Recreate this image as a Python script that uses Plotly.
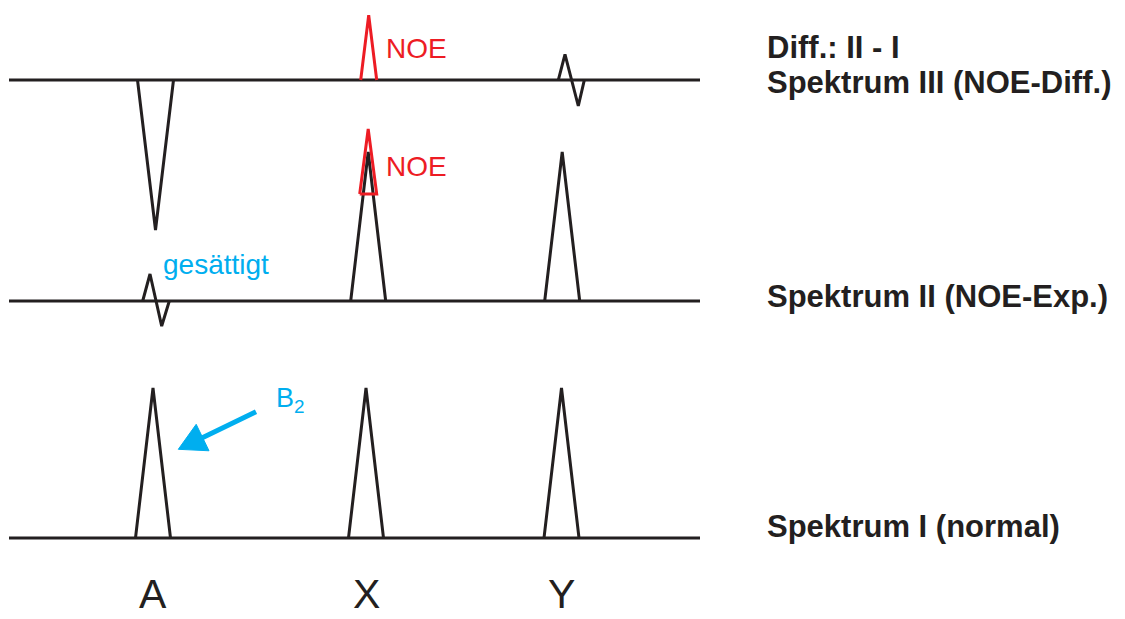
import math
import plotly.graph_objects as go

# ---------------- data ----------------
categories = ["A", "X", "Y"]

# baselines of the three spectra (intensity offset units)
spectrum_names = ["Spektrum I (normal)", "Spektrum II (NOE-Exp.)", "Spektrum III (NOE-Diff.)"]
diff_label = "Diff.: II - I"
spectrum_offsets = [0.0, 1.58, 3.053]
baseline_range = [9, 700]  # chemical-shift axis extent

# Spectrum I: normal peaks
spec1_pos = [153, 366, 561.5]
spec1_height = [1.0, 1.0, 1.0]

# Spectrum II: A saturated (dispersive remnant), X & Y normal
spec2_pos = [155.5, 368.2, 562.2]
spec2_height = [None, 0.993, 0.993]
spec2_disp_A = [142.7, 150.0, 161.7, 169.3]     # shift points of dispersive residue
spec2_disp_A_amp = [0.0, 0.18, -0.167, 0.0]
# NOE enhancement on X (red)
noe2_pos = 368.2
noe2_top = 1.147
noe2_bottom = 0.713
noe2_halfwidth = 8.5

# Spectrum III: difference II - I
spec3_pos = [155.5, 368.7, 571.0]
spec3_height = [-1.0, 0.433, None]
spec3_halfwidth = [18.0, 8.0, None]
spec3_disp_Y = [558.3, 565.0, 578.3, 584.3]
spec3_disp_Y_amp = [0.0, 0.171, -0.173, 0.0]

peak_halfwidth = 17.5

DARK = "#231f20"
RED = "#ed1c24"
CYAN = "#00aeef"
LW = 3
PX = 150.0   # pixels per intensity unit
OFF = 8      # page body margin

def yv(pix):
    return (538 - pix) / PX

fig = go.Figure()

def line(xs, ys, color=DARK, width=LW, fill=None):
    fig.add_trace(go.Scatter(x=xs, y=ys, mode="lines",
                             line=dict(color=color, width=width),
                             fill=fill, fillcolor=color if fill else None,
                             hoverinfo="skip", showlegend=False))

# baselines
for off in spectrum_offsets:
    line(baseline_range, [off, off])

def peak(pos, h, off, hw=peak_halfwidth, color=DARK):
    line([pos - hw, pos, pos + hw], [off, off + h, off], color=color)

# Spectrum I
for p, h in zip(spec1_pos, spec1_height):
    peak(p, h, spectrum_offsets[0])

# Spectrum II
off2 = spectrum_offsets[1]
line(spec2_disp_A, [off2 + a for a in spec2_disp_A_amp])
for p, h in zip(spec2_pos[1:], spec2_height[1:]):
    peak(p, h, off2)
line([noe2_pos - noe2_halfwidth, noe2_pos, noe2_pos + noe2_halfwidth, noe2_pos - noe2_halfwidth],
     [off2 + noe2_bottom, off2 + noe2_top, off2 + noe2_bottom, off2 + noe2_bottom], color=RED)

# Spectrum III
off3 = spectrum_offsets[2]
peak(spec3_pos[0], spec3_height[0], off3, hw=spec3_halfwidth[0])
peak(spec3_pos[1], spec3_height[1], off3, hw=spec3_halfwidth[1], color=RED)
line(spec3_disp_Y, [off3 + a for a in spec3_disp_Y_amp])

# ---------- B2 arrow (irradiation) ----------
arrow_tail = (256.0, yv(411.7))
arrow_tip = (178.3, yv(449.3))
head_len, head_half = 27.0, 14.7
dx = arrow_tip[0] - arrow_tail[0]
dy = (arrow_tip[1] - arrow_tail[1]) * PX
L = math.hypot(dx, dy)
ux, uy = dx / L, dy / L
bx, by = arrow_tip[0] - ux * head_len, arrow_tip[1] * PX - uy * head_len
nx, ny = -uy, ux
line([arrow_tail[0], bx + ux * 2], [arrow_tail[1], (by + uy * 2) / PX], color=CYAN, width=5)
line([arrow_tip[0], bx + nx * head_half, bx - nx * head_half, arrow_tip[0]],
     [arrow_tip[1], (by + ny * head_half) / PX, (by - ny * head_half) / PX, arrow_tip[1]],
     color=CYAN, width=1, fill="toself")

ann = []
def text(x, y, s, size, color=DARK, bold=False, xanchor="left", family="Liberation Sans, Arial, sans-serif"):
    ann.append(dict(x=x, y=y, xref="x", yref="y", text=(f"<b>{s}</b>" if bold else s),
                    showarrow=False, xanchor=xanchor, yanchor="middle",
                    font=dict(size=size, color=color, family=family)))

# right labels
text(765, yv(47), diff_label, 31, bold=True)
text(765, yv(82), spectrum_names[2], 31, bold=True)
text(765, yv(296), spectrum_names[1], 31, bold=True)
text(765, yv(526), spectrum_names[0], 31, bold=True)

# in-plot labels
text(384, yv(48), "NOE", 28, color=RED)
text(384, yv(166), "NOE", 28, color=RED)
text(161, yv(264), "gesättigt", 28, color=CYAN)
text(274, yv(400), "B<sub>2</sub>", 27, color=CYAN)

# peak labels
for c, p in zip(categories, spec1_pos):
    text(p, yv(594), c, 41, xanchor="center")

fig.update_layout(
    width=1125 - OFF, height=619 - OFF,
    margin=dict(l=0, r=0, t=0, b=0),
    paper_bgcolor="white", plot_bgcolor="white",
    xaxis=dict(range=[OFF, 1125], visible=False, fixedrange=True),
    yaxis=dict(range=[yv(619), yv(OFF)], visible=False, fixedrange=True),
    annotations=ann,
    showlegend=False,
)
fig.write_html("out.html", config={"displayModeBar": False})
